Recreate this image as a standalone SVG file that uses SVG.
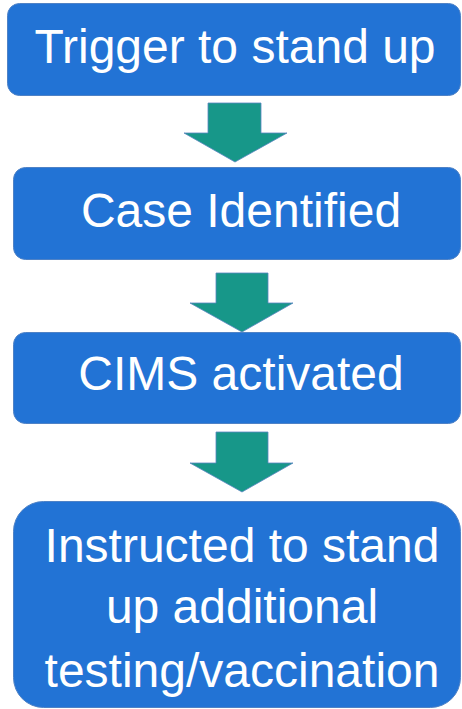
<svg xmlns="http://www.w3.org/2000/svg" width="462" height="709" viewBox="0 0 462 709">
<style>
.box{fill:#2273D5;stroke:#4F82C6;stroke-width:1}
.arr{fill:#179789;stroke:#5B86C0;stroke-width:0.8}
text{font-family:"Liberation Sans",Arial,sans-serif;font-size:48px;fill:#fff;text-anchor:middle}
</style>
<rect width="462" height="709" fill="#fff"/>
<g id="connectors">
<polygon class="arr" points="208,103 261,103 261,133 287,133 235,162 184,133 208,133"/>
<polygon class="arr" points="216,273 268,273 268,303 293,303 242,332 190,303 216,303"/>
<polygon class="arr" points="216,432 268,432 268,463 293,463 242,492 190,463 216,463"/>
</g>
<g id="n1">
<rect class="box" x="7.5" y="3.5" width="453" height="92" rx="12"/>
<text x="235" y="63">Trigger to stand up</text>
</g>
<g id="n2">
<rect class="box" x="13.5" y="167.5" width="447" height="92" rx="12"/>
<text x="241" y="227">Case Identified</text>
</g>
<g id="n3">
<rect class="box" x="13.5" y="332.5" width="447" height="91" rx="12"/>
<text x="241" y="390">CIMS activated</text>
</g>
<g id="n4">
<rect class="box" x="13.5" y="501.5" width="447" height="206" rx="30"/>
<text x="242" y="562">Instructed to stand</text>
<text x="242" y="623">up additional</text>
<text x="242" y="687">testing/vaccination</text>
</g>
</svg>
